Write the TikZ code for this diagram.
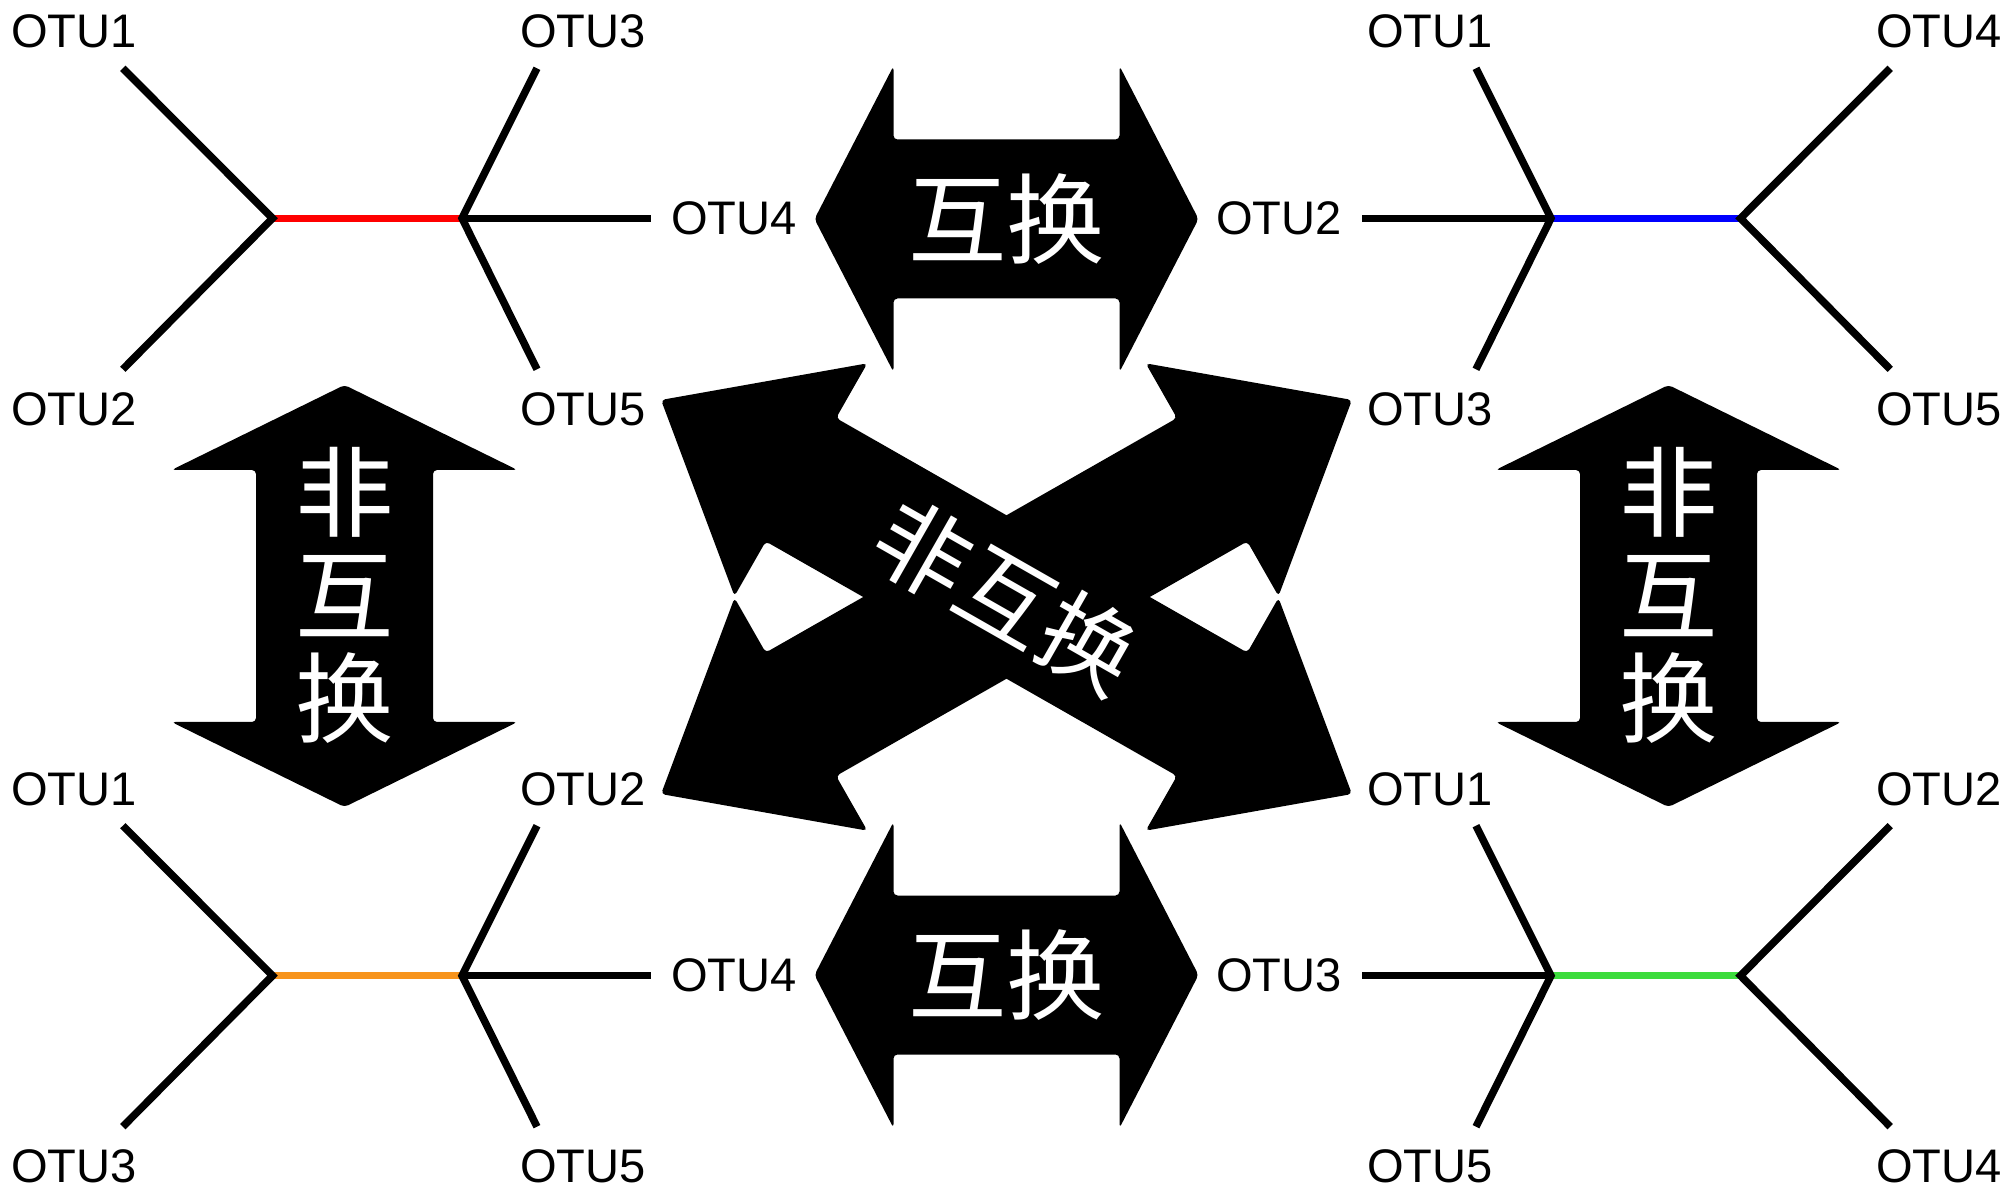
\documentclass[tikz,border=0pt]{standalone}
\usepackage{fontspec}
\setmainfont{Liberation Sans}
\newfontfamily\cjk{Noto Sans CJK SC}
\usepackage{tikz}
\usepackage{xcolor}
\definecolor{edgeRed}{HTML}{FF0000}
\definecolor{edgeOrange}{HTML}{F7941D}
\definecolor{edgeBlue}{HTML}{0000FF}
\definecolor{edgeGreen}{HTML}{3CDC3C}

\begin{document}
\begin{tikzpicture}[
    x=0.1mm, y=-0.1mm,
    otu/.style={inner sep=0pt, font=\fontsize{13.4}{16}\selectfont},
    branch/.style={line width=0.75mm},
    bigarrow/.style={fill=black, rounded corners=0.4mm},
    cjklabel/.style={text=white, inner sep=0pt, align=center, font=\cjk\fontsize{28}{29.3}\selectfont}
]
    \useasboundingbox (0,0) rectangle (2013,1192);

    % Vertical arrows (non-swap)
    \begin{scope}[shift={(344.5,596)}]
        \fill[bigarrow] (0,-211) -- (173,-126) -- (88.5,-126) -- (88.5,126) -- (173,126) -- (0,211)
            -- (-173,126) -- (-88.5,126) -- (-88.5,-126) -- (-173,-126) -- cycle;
    \end{scope}
    \begin{scope}[shift={(1668.5,596)}]
        \fill[bigarrow] (0,-211) -- (173,-126) -- (88.5,-126) -- (88.5,126) -- (173,126) -- (0,211)
            -- (-173,126) -- (-88.5,126) -- (-88.5,-126) -- (-173,-126) -- cycle;
    \end{scope}

    % Horizontal arrows (swap)
    \begin{scope}[shift={(1006.5,219)}]
        \fill[bigarrow] (-192,0) -- (-113,-153) -- (-113,-79.5) -- (113,-79.5) -- (113,-153) -- (192,0)
            -- (113,153) -- (113,79.5) -- (-113,79.5) -- (-113,153) -- cycle;
    \end{scope}
    \begin{scope}[shift={(1006.5,975)}]
        \fill[bigarrow] (-192,0) -- (-113,-153) -- (-113,-79.5) -- (113,-79.5) -- (113,-153) -- (192,0)
            -- (113,153) -- (113,79.5) -- (-113,79.5) -- (-113,153) -- cycle;
    \end{scope}

    % Crossed arrows
    \begin{scope}[shift={(1006.5,597)}, rotate=29.7]
        \fill[bigarrow] (-397.7,0) -- (-236.7,-134) -- (-236.7,-71) -- (236.7,-71) -- (236.7,-134) -- (397.7,0)
            -- (236.7,134) -- (236.7,71) -- (-236.7,71) -- (-236.7,134) -- cycle;
    \end{scope}
    \begin{scope}[shift={(1006.5,597)}, rotate=-29.7]
        \fill[bigarrow] (-397.7,0) -- (-236.7,-134) -- (-236.7,-71) -- (236.7,-71) -- (236.7,-134) -- (397.7,0)
            -- (236.7,134) -- (236.7,71) -- (-236.7,71) -- (-236.7,134) -- cycle;
    \end{scope}

    % Arrow labels
    \node[cjklabel] (swapTop) at (1006.5,219) {互换};
    \node[cjklabel] (swapBottom) at (1006.5,975) {互换};
    \node[cjklabel] (keepLeft) at (344.5,595) {非\\互\\换};
    \node[cjklabel] (keepRight) at (1668.5,595) {非\\互\\换};
    \node[cjklabel, rotate=-29.7, font=\cjk\fontsize{27}{28}\selectfont] (keepCross) at (1006.5,597) {非互换};

    % Top-left tree
    \coordinate (tlL) at (272.5,218.3);
    \coordinate (tlR) at (462,218.3);
    \coordinate (tl1) at (122.8,68.3);
    \coordinate (tl2) at (122.8,369.3);
    \coordinate (tl3) at (537,68.3);
    \coordinate (tl5) at (537,369.3);
    \coordinate (tl4) at (651,218.3);
    \node[otu] (tlOtu1) at (74,31.7) {OTU1};
    \node[otu] (tlOtu2) at (74,409) {OTU2};
    \node[otu] (tlOtu3) at (583,31.7) {OTU3};
    \node[otu] (tlOtu5) at (583,409) {OTU5};
    \node[otu] (tlOtu4) at (734,218.3) {OTU4};
    \draw[branch, edgeRed] (tlL) -- (tlR);
    \draw[branch] (tl1) -- (tlL) -- (tl2);
    \draw[branch] (tl3) -- (tlR) -- (tl5);
    \draw[branch] (tlR) -- (tl4);

    % Bottom-left tree
    \coordinate (blL) at (272.5,975.7);
    \coordinate (blR) at (462,975.7);
    \coordinate (bl1) at (122.8,825.7);
    \coordinate (bl3) at (122.8,1126.7);
    \coordinate (bl2) at (537,825.7);
    \coordinate (bl5) at (537,1126.7);
    \coordinate (bl4) at (651,975.7);
    \node[otu] (blOtu1) at (74,789.1) {OTU1};
    \node[otu] (blOtu3) at (74,1166.4) {OTU3};
    \node[otu] (blOtu2) at (583,789.1) {OTU2};
    \node[otu] (blOtu5) at (583,1166.4) {OTU5};
    \node[otu] (blOtu4) at (734,975.7) {OTU4};
    \draw[branch, edgeOrange] (blL) -- (blR);
    \draw[branch] (bl1) -- (blL) -- (bl3);
    \draw[branch] (bl2) -- (blR) -- (bl5);
    \draw[branch] (blR) -- (bl4);

    % Top-right tree
    \coordinate (trL) at (1551,218.3);
    \coordinate (trR) at (1740.5,218.3);
    \coordinate (tr1) at (1476,68.3);
    \coordinate (tr3) at (1476,369.3);
    \coordinate (tr2) at (1362,218.3);
    \coordinate (tr4) at (1890.2,68.3);
    \coordinate (tr5) at (1890.2,369.3);
    \node[otu] (trOtu1) at (1430,31.7) {OTU1};
    \node[otu] (trOtu3) at (1430,409) {OTU3};
    \node[otu] (trOtu2) at (1279,218.3) {OTU2};
    \node[otu] (trOtu4) at (1939,31.7) {OTU4};
    \node[otu] (trOtu5) at (1939,409) {OTU5};
    \draw[branch, edgeBlue] (trL) -- (trR);
    \draw[branch] (tr1) -- (trL) -- (tr3);
    \draw[branch] (trL) -- (tr2);
    \draw[branch] (tr4) -- (trR) -- (tr5);

    % Bottom-right tree
    \coordinate (brL) at (1551,975.7);
    \coordinate (brR) at (1740.5,975.7);
    \coordinate (br1) at (1476,825.7);
    \coordinate (br5) at (1476,1126.7);
    \coordinate (br3) at (1362,975.7);
    \coordinate (br2) at (1890.2,825.7);
    \coordinate (br4) at (1890.2,1126.7);
    \node[otu] (brOtu1) at (1430,789.1) {OTU1};
    \node[otu] (brOtu5) at (1430,1166.4) {OTU5};
    \node[otu] (brOtu3) at (1279,975.7) {OTU3};
    \node[otu] (brOtu2) at (1939,789.1) {OTU2};
    \node[otu] (brOtu4) at (1939,1166.4) {OTU4};
    \draw[branch, edgeGreen] (brL) -- (brR);
    \draw[branch] (br1) -- (brL) -- (br5);
    \draw[branch] (brL) -- (br3);
    \draw[branch] (br2) -- (brR) -- (br4);
\end{tikzpicture}
\end{document}
